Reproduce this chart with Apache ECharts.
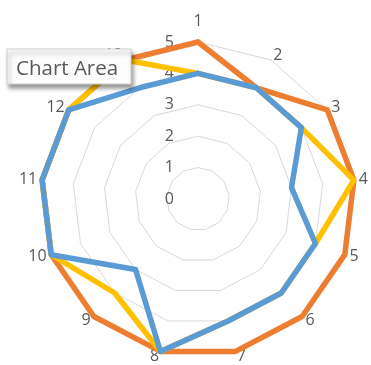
<!DOCTYPE html>
<html>
<head>
<meta charset="utf-8">
<script src="https://cdn.jsdelivr.net/npm/echarts@6/dist/echarts.min.js"></script>
<style>
  html, body { margin: 0; padding: 0; background: #ffffff; }
  #chart { width: 371px; height: 365px; }
</style>
</head>
<body>
<div id="chart"></div>
<script>
// Categories, in clockwise order starting at the top
const categories = ['1', '2', '3', '4', '5', '6', '7', '8', '9', '10', '11', '12', '13'];
const orangeValues = [5, 4, 5, 5, 5, 5, 5, 5, 5, 5, 5, 5, 5];
const yellowValues = [4, 4, 4, 5, 4, 4, 4, 5, 4, 5, 5, 5, 5];
const blueValues   = [4, 4, 4, 3, 4, 4, 4, 5, 3, 5, 5, 5, 4];
const radialTicks  = [0, 1, 2, 3, 4, 5];

const axisMax = radialTicks[radialTicks.length - 1];
const textColor = '#595959';
const fontFamily = '"Open Sans", "Noto Sans", sans-serif';

// ECharts lays radar indicators out counter-clockwise, so walk the list
// from the first category and then backwards to get a clockwise ring.
const order = [0];
for (let i = categories.length - 1; i >= 1; i--) order.push(i);
const reorder = arr => order.map(i => arr[i]);

const indicators = order.map((i, k) => {
  const ind = { name: categories[i], min: radialTicks[0], max: axisMax };
  if (k === 0) {
    ind.nameGap = 13;
    ind.axisLabel = {
      show: true,
      color: textColor,
      fontSize: 16,
      fontFamily: fontFamily,
      margin: 24,
      formatter: v => String(v)
    };
  }
  return ind;
});

const lineStyleOf = color => ({ color: color, width: 5.5, join: 'round', cap: 'round' });

const chart = echarts.init(document.getElementById('chart'));
chart.setOption({
  backgroundColor: '#ffffff',
  animation: false,
  radar: {
    center: [198, 199],
    radius: 157,
    startAngle: 90,
    shape: 'polygon',
    splitNumber: radialTicks.length - 1,
    indicator: indicators,
    nameGap: 5,
    axisName: { color: textColor, fontSize: 16, fontFamily: fontFamily },
    axisLine: { show: false },
    axisTick: { show: false },
    axisLabel: { show: false },
    splitArea: { show: false },
    splitLine: { lineStyle: { color: '#d9d9d9', width: 1 } }
  },
  series: [{
    type: 'radar',
    symbol: 'none',
    data: [
      { value: reorder(orangeValues), lineStyle: lineStyleOf('#ED7D31') },
      { value: reorder(yellowValues), lineStyle: lineStyleOf('#FFC000') },
      { value: reorder(blueValues),   lineStyle: lineStyleOf('#5B9BD5') }
    ]
  }],
  graphic: [{
    type: 'rect',
    z: 100,
    shape: { x: 7, y: 49, width: 124, height: 35 },
    style: {
      fill: '#fcfcfc',
      stroke: '#cfcfcf',
      lineWidth: 1,
      shadowBlur: 4,
      shadowOffsetX: 2,
      shadowOffsetY: 4,
      shadowColor: 'rgba(0,0,0,0.4)'
    }
  }, {
    type: 'text',
    z: 101,
    x: 16,
    y: 69,
    style: {
      text: 'Chart Area',
      fill: textColor,
      fontSize: 20.5,
      fontFamily: fontFamily,
      verticalAlign: 'middle'
    }
  }]
});
</script>
</body>
</html>
